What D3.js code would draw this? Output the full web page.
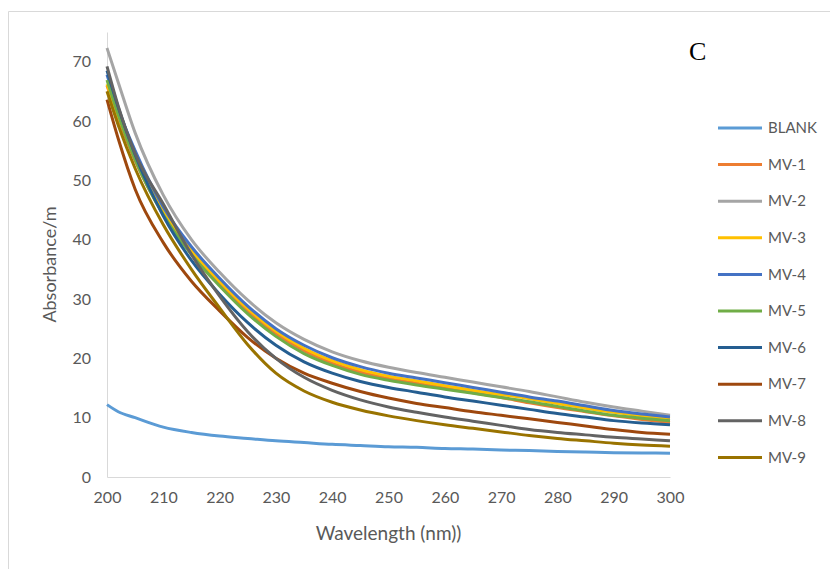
<!DOCTYPE html>
<html>
<head>
<meta charset="utf-8">
<script src="https://cdn.jsdelivr.net/npm/d3@7"></script>
<style>
  body { margin: 0; background: #fff; }
</style>
</head>
<body>
<div id="chart"></div>
<script>
// data
const wavelengths = [200, 202, 205, 210, 215, 220, 225, 230, 235, 240, 245, 250, 255, 260, 265, 270, 275, 280, 285, 290, 295, 300];

const BLANK = [12.2, 11, 10, 8.4, 7.5, 6.9, 6.5, 6.1, 5.8, 5.5, 5.3, 5.1, 5.0, 4.8, 4.7, 4.55, 4.45, 4.3, 4.2, 4.1, 4.05, 4.0];
const MV1 = [66, 60.5, 53.3, 44.3, 37.8, 32.6, 28, 24.2, 21.3, 19.2, 17.7, 16.6, 15.8, 15, 14.2, 13.4, 12.5, 11.7, 11, 10.3, 9.7, 9.2];
const MV2 = [72.3, 66.5, 58, 47.5, 40, 34.5, 29.8, 26, 23.2, 21.1, 19.6, 18.5, 17.6, 16.8, 16, 15.2, 14.4, 13.5, 12.6, 11.8, 11.1, 10.4];
const MV3 = [66.2, 60.8, 53.8, 44.8, 38.2, 33, 28.4, 24.6, 21.7, 19.6, 18.1, 17.0, 16.2, 15.4, 14.6, 13.9, 13.2, 12.4, 11.6, 10.9, 10.3, 9.8];
const MV4 = [67.8, 62, 55, 45.5, 38.8, 33.5, 28.8, 25, 22.2, 20.1, 18.6, 17.5, 16.7, 15.9, 15.1, 14.3, 13.5, 12.8, 12, 11.2, 10.6, 10.1];
const MV5 = [66.9, 61, 53.5, 44.2, 37.5, 32.2, 27.5, 23.7, 20.8, 18.8, 17.3, 16.3, 15.5, 14.8, 14.1, 13.4, 12.7, 11.9, 11.1, 10.4, 9.9, 9.5];
const MV6 = [68.5, 62.3, 54.3, 44, 36.5, 30.8, 26, 22.2, 19.4, 17.5, 16.1, 15.1, 14.3, 13.5, 12.8, 12.1, 11.4, 10.7, 10.1, 9.5, 9.1, 8.8];
const MV7 = [63.6, 57, 48.5, 39.5, 33, 28, 23.5, 20, 17.5, 15.8, 14.4, 13.3, 12.4, 11.7, 11, 10.4, 9.8, 9.2, 8.6, 8, 7.5, 7.2];
const MV8 = [69.2, 62.5, 54.5, 46, 37.5, 30.5, 24.5, 20, 16.8, 14.6, 13, 11.8, 10.9, 10.1, 9.4, 8.7, 8.0, 7.5, 7.1, 6.7, 6.4, 6.1];
const MV9 = [65, 59.3, 52, 42.5, 35, 28.5, 22.3, 17.5, 14.5, 12.6, 11.3, 10.3, 9.5, 8.8, 8.2, 7.6, 7, 6.5, 6.1, 5.7, 5.4, 5.2];

const seriesNames = ['BLANK', 'MV-1', 'MV-2', 'MV-3', 'MV-4', 'MV-5', 'MV-6', 'MV-7', 'MV-8', 'MV-9'];
const seriesValues = [BLANK, MV1, MV2, MV3, MV4, MV5, MV6, MV7, MV8, MV9];
const colors = ['#5B9BD5', '#ED7D31', '#A5A5A5', '#FFC000', '#4472C4', '#70AD47', '#255E91', '#9E480E', '#636363', '#997300'];
const xTicks = [200, 210, 220, 230, 240, 250, 260, 270, 280, 290, 300];
const yTicks = [0, 10, 20, 30, 40, 50, 60, 70];

// const
const width = 830;
const height = 569;
const margin = { top: 32, right: 160, bottom: 92, left: 107 };
const font = 'Lato, "Open Sans", sans-serif';

// svg
const svg = d3.select('#chart')
  .append('svg')
  .attr('width', width)
  .attr('height', height);

// outer frame
svg.append('path')
  .attr('d', `M8.5,${height} V11.5 H${width}`)
  .attr('fill', 'none')
  .attr('stroke', '#D9D9D9')
  .attr('stroke-width', 1);

// scales
const x = d3.scaleLinear()
  .domain([200, 300])
  .range([margin.left, width - margin.right]);
const y = d3.scaleLinear()
  .domain([0, 75])
  .range([height - margin.bottom, margin.top]);

// x axis
svg.append('g')
  .attr('transform', `translate(0, ${height - margin.bottom})`)
  .call(d3.axisBottom(x).tickValues(xTicks).tickSize(0).tickPadding(15).tickFormat(d3.format('d')))
  .call(g => g.select('.domain').attr('stroke', '#D9D9D9'))
  .call(g => g.selectAll('text').attr('fill', '#595959').style('font', `16px ${font}`));

// y axis
svg.append('g')
  .attr('transform', `translate(${margin.left}, 0)`)
  .call(d3.axisLeft(y).tickValues(yTicks).tickSize(0).tickPadding(16))
  .call(g => g.select('.domain').attr('stroke', '#D9D9D9'))
  .call(g => g.selectAll('text').attr('fill', '#595959').style('font', `16px ${font}`));

// lines
const line = d3.line()
  .x((d, i) => x(wavelengths[i]))
  .y(d => y(d))
  .curve(d3.curveMonotoneX);

svg.append('g')
  .selectAll('path')
  .data(seriesValues)
  .join('path')
  .attr('d', d => line(d))
  .attr('fill', 'none')
  .attr('stroke', (d, i) => colors[i])
  .attr('stroke-width', 3)
  .attr('stroke-linejoin', 'round');

// axis titles
svg.append('text')
  .attr('x', (margin.left + width - margin.right) / 2)
  .attr('y', 540)
  .attr('text-anchor', 'middle')
  .attr('fill', '#595959')
  .style('font', `19px ${font}`)
  .text('Wavelength (nm))');

svg.append('text')
  .attr('transform', `translate(56, ${(margin.top + height - margin.bottom) / 2 + 10}) rotate(-90)`)
  .attr('text-anchor', 'middle')
  .attr('fill', '#595959')
  .style('font', `18px ${font}`)
  .text('Absorbance/m');

// panel letter
svg.append('text')
  .attr('x', 689)
  .attr('y', 60)
  .attr('fill', '#000')
  .style('font', '26px "Liberation Serif", "Times New Roman", serif')
  .text('C');

// legend
const legend = svg.append('g')
  .selectAll('g')
  .data(seriesNames)
  .join('g')
  .attr('transform', (d, i) => `translate(718, ${128 + i * 36.6})`);

legend.append('line')
  .attr('x1', 0)
  .attr('x2', 44)
  .attr('stroke', (d, i) => colors[i])
  .attr('stroke-width', 3);

legend.append('text')
  .attr('x', 50)
  .attr('dy', '0.35em')
  .attr('fill', '#595959')
  .style('font', `15px ${font}`)
  .text(d => d);
</script>
</body>
</html>
